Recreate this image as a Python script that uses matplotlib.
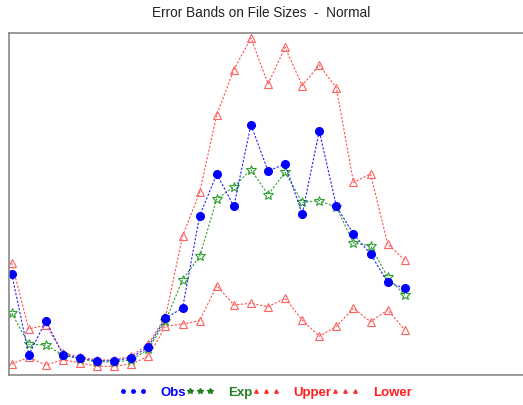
import matplotlib
matplotlib.use("Agg")
import matplotlib.pyplot as plt
from matplotlib.lines import Line2D
import numpy as np

# file size series (arbitrary units)
obs = [101, 20.3, 54, 20.3, 16.7, 14, 14.3, 17.3, 28.3, 56.7, 67, 159.3,
       201, 168.7, 250.3, 204, 211, 161, 244, 168.7, 141, 121, 92.7, 86.7]
exp = [62, 30.7, 30, 20, 16, 13, 13, 15, 26, 54, 95.3, 118.7,
       176, 188.3, 205.3, 180.3, 202.7, 172.7, 174.3, 167.7, 132, 129.3, 97.7, 80]
upper = [112, 46, 50, 22, 18, 15, 15, 19, 31, 58, 139, 182.7,
         260.3, 305.3, 337, 291, 327.7, 289.3, 310, 287, 192.7, 201, 131, 115]
lower = [11, 17.7, 10, 15.3, 12, 8.7, 8.7, 11, 18.7, 48.7, 51, 54.3,
         89.3, 70, 71.7, 68.3, 76.7, 55, 38.7, 48.7, 66.7, 53.3, 65, 45.3]
x = np.arange(len(obs))

W, H = 523, 406
fig = plt.figure(figsize=(W / 100, H / 100), dpi=100)
ax = fig.add_axes([9 / W, 30 / H, 521 / W, 342 / H])

dots = (0, (2, 1.5))
ax.plot(x, upper, color='#ff5050', lw=0.8, ls=dots, marker='^', ms=6,
        mfc='none', mec='#ff6060', mew=0.8)
ax.plot(x, lower, color='#ff5050', lw=0.8, ls=dots, marker='^', ms=6,
        mfc='none', mec='#ff6060', mew=0.8)
ax.plot(x, exp, color='#30a030', lw=0.8, ls=dots, marker='*', ms=7,
        mfc='none', mec='#30a030', mew=0.8)
ax.plot(x, obs, color='#2020ff', lw=0.8, ls=dots, marker='o', ms=5.5,
        mfc='#0000ff', mec='#0000ff')

ax.set_xlim(-0.158, 30.33)
ax.set_ylim(0, 342)
ax.set_xticks([])
ax.set_yticks([])
ax.spines['right'].set_visible(False)
for side in ['left', 'top', 'bottom']:
    ax.spines[side].set_color('#888888')
    ax.spines[side].set_linewidth(1.2)

fig.text(0.5, 1 - 13 / H, 'Error Bands on File Sizes  -  Normal', ha='center', va='center',
         fontsize=9.8, family='Liberation Sans', color='#222222')

handles = [
    Line2D([], [], ls='none', marker='o', ms=2.5, color='#0000ff'),
    Line2D([], [], ls='none', marker='*', ms=4, color='#208020'),
    Line2D([], [], ls='none', marker='^', ms=2.5, color='#ff3030'),
    Line2D([], [], ls='none', marker='^', ms=2.5, color='#ff3030'),
]
labels = ['Obs', 'Exp', 'Upper', 'Lower']
leg = fig.legend(handles, labels, loc='center', bbox_to_anchor=(0.5 + 4 / W, 1 - 393 / H), ncol=4,
                 numpoints=3, frameon=False, handlelength=2.1, handletextpad=1.05,
                 columnspacing=0.0, labelcolor=['#0000ff', '#208020', '#ff2020', '#ff2020'],
                 prop={'family': 'Liberation Sans', 'weight': 'bold', 'size': 9.5})

fig.savefig('out.png', dpi=100)
